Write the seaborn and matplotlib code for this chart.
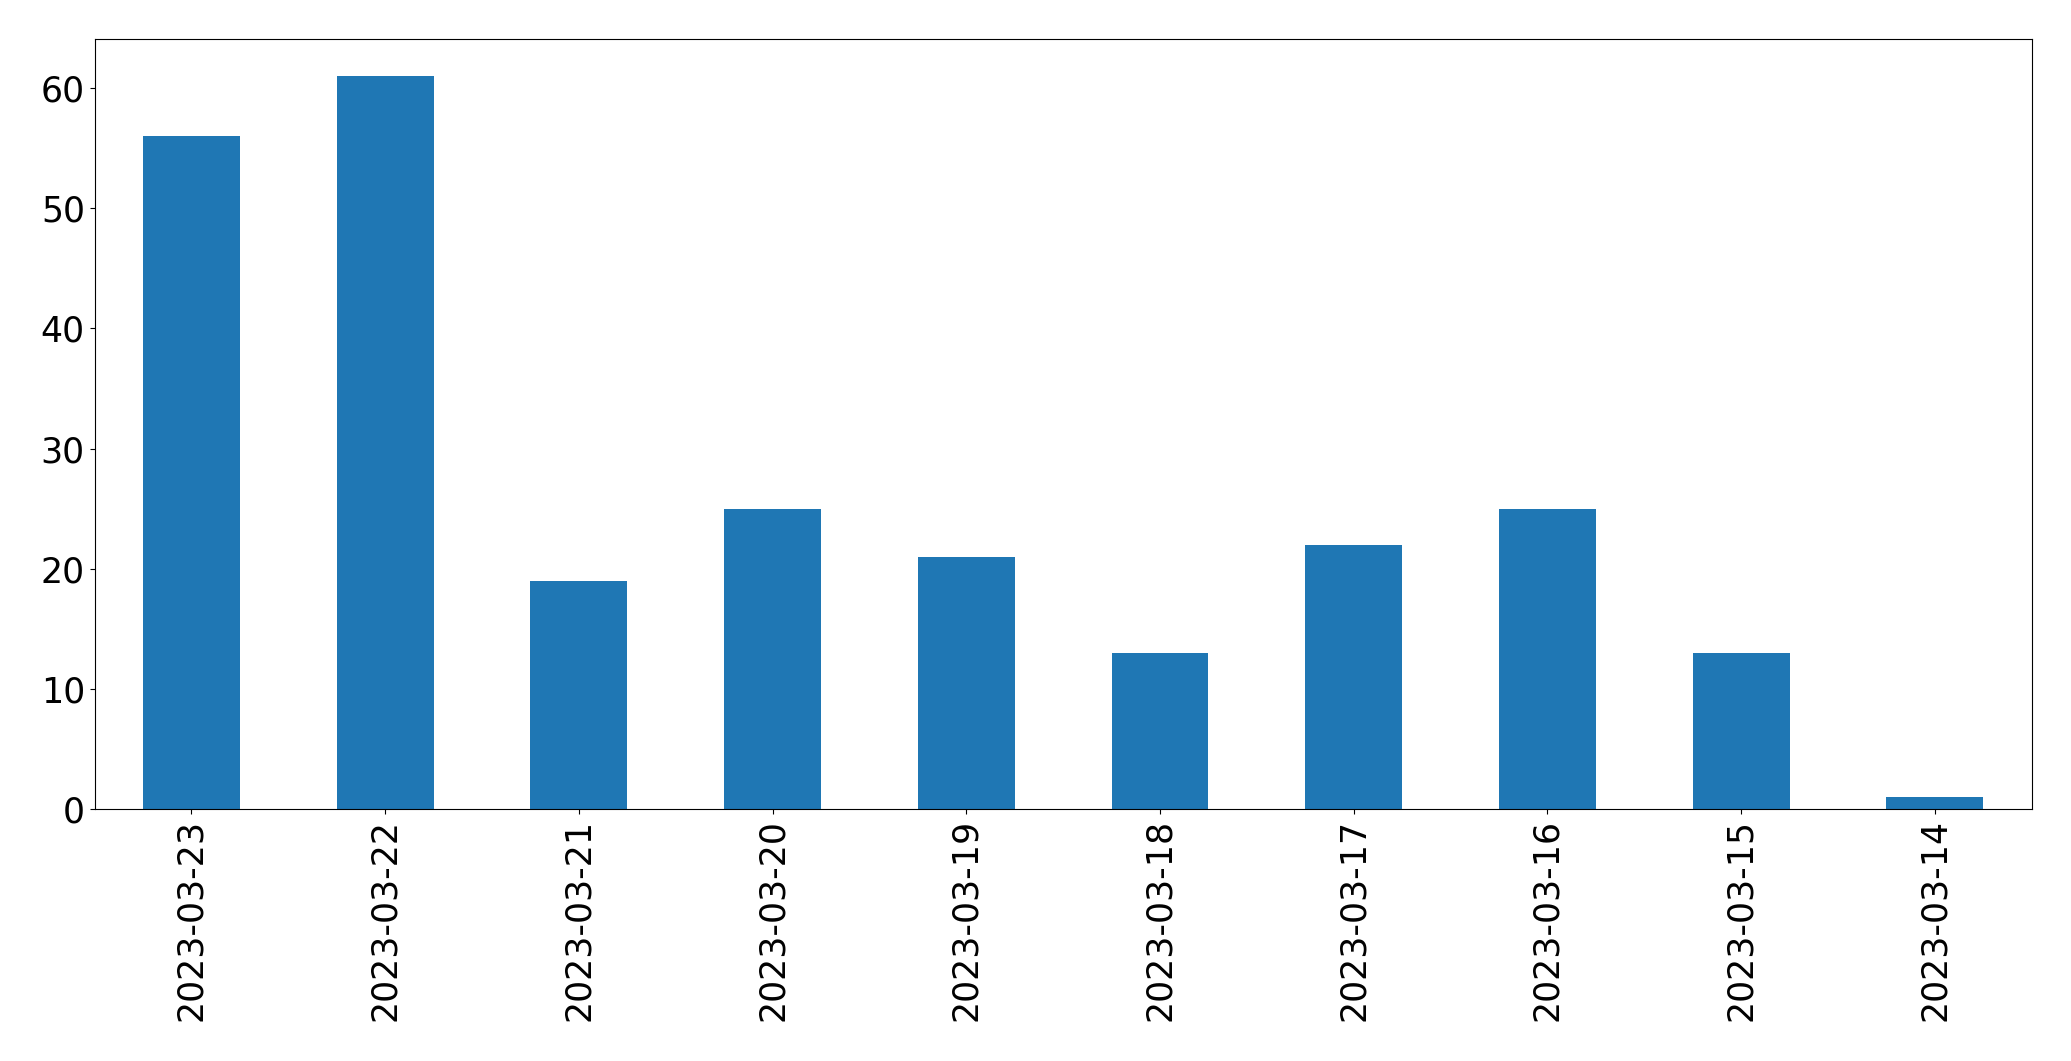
import matplotlib
matplotlib.use("Agg")
import matplotlib.pyplot as plt
import seaborn as sns
import pandas as pd

dates = ["2023-03-23", "2023-03-22", "2023-03-21", "2023-03-20", "2023-03-19",
         "2023-03-18", "2023-03-17", "2023-03-16", "2023-03-15", "2023-03-14"]
counts = [56, 61, 19, 25, 21, 13, 22, 25, 13, 1]

df = pd.DataFrame({"date": dates, "count": counts})

fig = plt.figure(figsize=(20.71, 10.61), dpi=100)
ax = fig.add_axes([0.0457, 0.2372, 0.981 - 0.0457, 0.963 - 0.2372])

sns.barplot(data=df, x="date", y="count", order=dates, color="#1f77b4",
            saturation=1, width=0.5, linewidth=0, ax=ax)

ax.set_xlim(-0.5, 9.5)
ax.set_ylim(0, 64.05)
ax.set_xlabel("")
ax.set_ylabel("")
ax.tick_params(axis="both", labelsize=25)
plt.setp(ax.get_xticklabels(), rotation=90)
for s in ax.spines.values():
    s.set_visible(True)
    s.set_color("black")

fig.savefig("out.png", dpi=100)
